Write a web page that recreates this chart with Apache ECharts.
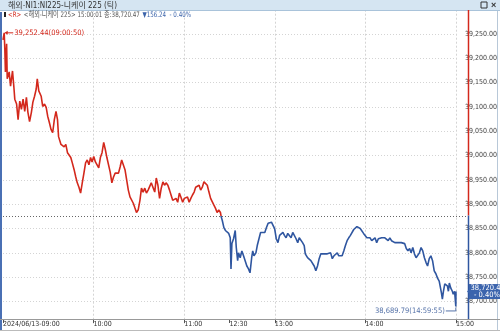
<!DOCTYPE html>
<html><head><meta charset="utf-8">
<script src="https://cdn.jsdelivr.net/npm/echarts@6/dist/echarts.min.js"></script>
<style>html,body{margin:0;padding:0;background:#fff;overflow:hidden}#c{width:500px;height:331px}</style>
</head><body><div id="c"></div>
<script>
// ---- data (minutes of trading since 09:00, lunch 11:30-12:30 removed) ----
const tradeMinutes = [0,0.8,1.2,1.6,2.4,2.8,4.1,5.0,6.3,7.2,7.8,9.0,10.0,11.1,12.2,13.3,14.4,15.5,16.5,17.6,18.8,19.8,20.9,22.0,22.7,23.7,25.3,26.3,27.5,28.6,29.6,30.7,31.8,32.9,34.0,35.1,36.1,36.8,38.4,39.4,40.5,41.6,42.7,43.8,44.9,45.9,47.1,48.2,49.2,50.3,51.4,52.5,53.6,54.7,55.8,56.9,58.0,59.0,60.1,61.2,62.3,63.4,64.5,65.6,66.7,67.8,68.8,69.9,71.0,72.1,73.2,74.3,75.4,76.5,77.6,78.6,79.7,80.8,81.9,83.0,84.1,85.2,86.3,87.4,88.4,89.5,90.7,91.7,92.8,93.9,95.0,96.1,97.2,98.2,99.3,100.5,101.5,102.6,103.7,104.8,105.9,107.0,108.0,109.2,110.3,111.3,112.4,113.5,114.6,115.7,116.8,117.8,119.0,120.1,121.1,122.2,123.3,124.4,125.5,126.6,127.6,128.8,129.9,130.9,132.0,133.1,134.2,135.3,136.4,137.5,138.6,139.7,140.7,141.8,142.9,144.0,144.6,145.2,146.3,147.3,148.4,149.5,150.5,151.0,151.6,152.7,153.8,154.5,155.4,156.0,157.1,158.2,159.3,160.4,161.5,162.6,163.6,164.7,165.4,166.2,167.5,168.4,169.7,170.6,171.9,173.4,174.5,175.6,176.7,177.8,178.9,179.9,181.0,182.1,183.2,184.3,185.4,186.4,187.5,188.6,189.7,190.8,191.9,193.0,194.1,195.2,196.2,197.3,198.4,199.5,200.2,201.7,202.8,203.9,205.0,206.1,207.2,208.3,209.4,210.5,211.6,212.6,213.7,214.8,215.9,217.0,218.1,219.2,220.3,221.4,222.4,223.5,224.6,225.7,226.8,227.9,229.0,230.1,231.2,232.3,233.3,234.4,235.5,236.6,237.7,238.8,239.9,241.0,242.1,243.1,244.2,245.3,246.4,247.5,248.6,249.7,250.8,251.8,252.9,254.0,255.1,256.2,257.3,258.4,259.5,260.6,261.6,262.7,263.8,264.9,266.0,267.1,268.2,269.3,270.3,271.4,272.5,273.6,274.7,275.8,276.9,278.0,279.1,280.2,281.2,282.3,283.4,284.5,285.6,286.7,287.8,288.9,289.5,290.4,291.0,291.7,292.6,293.4,294.3,295.0,295.6,296.5,297.6,298.2,299.1,299.9,300];
const prices = [39238,39252.44,39220,39172,39230,39158,39172,39143,39174,39141,39116,39106,39074,39112,39095,39116,39091,39120,39089,39070,39089,39110,39122,39137,39158,39133,39122,39101,39106,39099,39081,39068,39054,39047,39074,39091,39074,39039,39023,39027,39018,39023,39006,39008,38996,38985,38971,38956,38944,38935,38923,38944,38964,38985,38991,38981,38996,38987,38998,38987,38981,38975,38996,39006,39027,39012,38996,39000,38966,38944,38956,38964,38966,38964,38977,38991,38987,38971,38950,38929,38915,38919,38902,38892,38883,38888,38908,38933,38925,38933,38923,38929,38925,38944,38935,38925,38954,38939,38912,38933,38946,38939,38944,38939,38929,38919,38908,38904,38912,38904,38923,38915,38904,38912,38908,38915,38904,38912,38919,38925,38935,38933,38939,38929,38935,38946,38950,38939,38925,38912,38908,38898,38892,38883,38888,38883,38873,38867,38852,38846,38842,38840,38831,38767,38819,38829,38846,38811,38784,38800,38790,38804,38794,38790,38773,38767,38759,38790,38804,38794,38800,38815,38831,38842,38846,38842,38852,38861,38863,38863,38861,38850,38829,38821,38836,38840,38842,38836,38831,38840,38842,38831,38842,38840,38829,38821,38831,38829,38821,38815,38798,38790,38788,38784,38780,38773,38763,38773,38788,38798,38800,38798,38800,38798,38800,38800,38788,38794,38798,38800,38794,38798,38794,38804,38815,38825,38831,38836,38840,38848,38852,38854,38852,38850,38846,38840,38836,38831,38829,38831,38825,38829,38831,38821,38829,38825,38831,38829,38831,38829,38825,38831,38825,38829,38821,38819,38821,38819,38821,38825,38819,38809,38804,38809,38800,38811,38798,38790,38794,38800,38811,38804,38790,38780,38773,38788,38794,38784,38763,38757,38748,38742,38732,38717,38705,38721,38736,38738,38732,38721,38738,38728,38721,38715,38721,38689.79,38720.47];
const prevClose = 38876.71;
const lastPrice = 38720.47;
const changeText = '▼156.24  - 0.40%';
const pctText = '- 0.40%';
const highPoint = [0.8, 39252.44], highTime = '09:00:50';
const lowPoint = [299.9, 38689.79], lowTime = '14:59:55';
const xTickValues = [0, 60, 120, 150, 180, 240, 300];
const xTickLabels = ['2024/06/13-09:00', '10:00', '11:00', '12:30', '13:00', '14:00', '15:00'];
const titleText = '해외-NI1:NI225-니케이 225 (틱)';
const legendName = '<해외-니케이 225> 15:00:01 종:38,720.47';

const RED = '#d3281c', BLUE = '#2f56a0';
const FONT = "'Liberation Sans Narrow','DejaVu Sans Condensed','Noto Sans CJK KR',sans-serif";
const fmt = v => v.toLocaleString('en-US', {minimumFractionDigits: 2, maximumFractionDigits: 2});

const chart = echarts.init(document.getElementById('c'), null, {renderer: 'canvas'});
chart.setOption({
  animation: false,
  backgroundColor: '#fff',
  grid: {left: 3, right: 38, top: 9.7, bottom: 5.2, containLabel: false},
  xAxis: [{
    type: 'value', min: 0, max: 300, interval: 60,
    axisLine: {show: false}, axisTick: {show: false}, axisLabel: {show: false},
    splitLine: {show: true, showMinLine: false, lineStyle: {color: '#d4d4d4', type: [2, 2], width: 1}}
  }, {
    type: 'value', min: 0, max: 300, interval: 30, offset: -6.8, position: 'bottom',
    axisLine: {show: false},
    axisTick: {show: true, customValues: xTickValues, length: 4, lineStyle: {color: '#555'}},
    axisLabel: {customValues: xTickValues, formatter: v => xTickLabels[xTickValues.indexOf(v)] || '',
      align: 'left', margin: 2, color: '#333', fontSize: 7, fontFamily: FONT},
    splitLine: {show: false}
  }],
  yAxis: {
    type: 'value', position: 'right', min: 38650, max: 39300, interval: 50, offset: 6,
    axisLine: {show: false},
    axisTick: {show: false},
    axisLabel: {formatter: v => fmt(v), color: '#444', fontSize: 7, fontFamily: FONT, margin: 3,
      showMinLabel: false, showMaxLabel: false},
    splitLine: {show: true, showMinLine: false, showMaxLine: false, lineStyle: {color: '#d4d4d4', type: [1, 2], width: 1}}
  },
  visualMap: {show: false, type: 'piecewise', dimension: 1, seriesIndex: 0,
    pieces: [{gt: prevClose, lte: 40000, color: RED}, {gte: 38000, lte: prevClose, color: BLUE}]},
  series: [{
    type: 'line', xAxisIndex: 0, showSymbol: false, symbol: 'none',
    data: tradeMinutes.map((t, i) => [t, prices[i]]),
    lineStyle: {width: 1.6}
  }]
});

// ---- decorations positioned through the chart's own scales ----
const px = p => chart.convertToPixel({seriesIndex: 0}, p);
const yPrev = px([0, prevClose])[1];
const axisX = 468;
const yTop = 10, yAxisBottom = 319;
const H = px([highPoint[0], highPoint[1]]);
const L = px([lowPoint[0], lowPoint[1]]);
const yLast = px([300, lastPrice])[1];

const g = [];
// header bar
g.push({type: 'rect', shape: {x: 0, y: 0, width: 500, height: 11}, style: {fill: '#d5e5f2'}, z: 10});
g.push({type: 'line', shape: {x1: 0, y1: 10.5, x2: 500, y2: 10.5}, style: {stroke: '#a9c3da', lineWidth: 1}, z: 10});
g.push({type: 'text', x: 8, y: 5.5, style: {text: titleText, font: "8px " + FONT, fill: '#333', verticalAlign: 'middle'}, z: 11});
g.push({type: 'rect', shape: {x: 481, y: 2, width: 6, height: 6}, style: {fill: 'none', stroke: '#333', lineWidth: 1}, z: 11});
g.push({type: 'text', x: 491, y: 5.5, style: {text: '×', font: "bold 9px sans-serif", fill: '#333', verticalAlign: 'middle'}, z: 11});
// legend line
g.push({type: 'rect', shape: {x: 4, y: 12, width: 2, height: 5}, style: {fill: '#222'}, z: 11});
g.push({type: 'text', x: 8, y: 15, scaleX: 0.82, style: {
  text: '{r|<R>} {n|' + legendName + '} {b|' + changeText + '}',
  verticalAlign: 'middle',
  rich: {r: {fill: RED, font: "7.5px " + FONT}, n: {fill: '#555', font: "7.5px " + FONT}, b: {fill: '#3c64aa', font: "7.5px " + FONT}}
}, z: 11});
// frame
g.push({type: 'rect', shape: {x: 0, y: 12, width: 2, height: 319}, style: {fill: '#4a70b4'}, z: 10});
g.push({type: 'line', shape: {x1: 497.5, y1: 11, x2: 497.5, y2: 331}, style: {stroke: '#b8c8d8', lineWidth: 1}, z: 10});
g.push({type: 'line', shape: {x1: 0, y1: yAxisBottom + 0.5, x2: 500, y2: yAxisBottom + 0.5}, style: {stroke: '#999', lineWidth: 1}, z: 10});
g.push({type: 'line', shape: {x1: 0, y1: 330.5, x2: 500, y2: 330.5}, style: {stroke: '#bbb', lineWidth: 1}, z: 10});
// previous close dotted line
g.push({type: 'line', shape: {x1: 0, y1: Math.round(yPrev) + 0.5, x2: axisX, y2: Math.round(yPrev) + 0.5},
  style: {stroke: '#666', lineWidth: 1, lineDash: [1, 2]}, z: 5});
// y axis line: red above prev close, blue below
g.push({type: 'line', shape: {x1: axisX + 0.5, y1: yTop, x2: axisX + 0.5, y2: yPrev}, style: {stroke: RED, lineWidth: 1.5}, z: 10});
g.push({type: 'line', shape: {x1: axisX + 0.5, y1: yPrev, x2: axisX + 0.5, y2: yAxisBottom}, style: {stroke: BLUE, lineWidth: 1.5}, z: 10});
// high annotation
g.push({type: 'line', shape: {x1: H[0] + 1, y1: H[1], x2: H[0] + 9, y2: H[1]}, style: {stroke: RED, lineWidth: 1}, z: 12});
g.push({type: 'polygon', shape: {points: [[H[0] + 0.5, H[1]], [H[0] + 3.5, H[1] - 2], [H[0] + 3.5, H[1] + 2]]}, style: {fill: RED}, z: 12});
g.push({type: 'text', x: H[0] + 10, y: H[1], style: {text: fmt(highPoint[1]) + '(' + highTime + ')', font: "7.5px " + FONT, fill: RED, verticalAlign: 'middle'}, z: 12});
// low annotation
g.push({type: 'line', shape: {x1: L[0] - 10, y1: L[1] + 4.5, x2: L[0], y2: L[1] + 4.5}, style: {stroke: '#5572a8', lineWidth: 1}, z: 12});
g.push({type: 'line', shape: {x1: L[0], y1: L[1] + 4.5, x2: L[0], y2: L[1] + 1}, style: {stroke: '#5572a8', lineWidth: 1}, z: 12});
g.push({type: 'text', x: L[0] - 11, y: L[1] + 4.5, style: {text: fmt(lowPoint[1]) + '(' + lowTime + ')', font: "7.5px " + FONT, fill: '#5572a8', align: 'right', verticalAlign: 'middle'}, z: 12});
// last value box
g.push({type: 'polygon', shape: {points: [[axisX - 1, yLast], [axisX + 2, yLast - 3], [axisX + 2, yLast + 3]]}, style: {fill: '#3b64ad'}, z: 13});
g.push({type: 'rect', shape: {x: axisX + 1, y: yLast - 7.5, width: 32, height: 15}, style: {fill: '#3b64ad'}, z: 13});
g.push({type: 'text', x: axisX + 2.5, y: yLast - 3.5, style: {text: fmt(lastPrice), font: "7.5px " + FONT, fill: '#fff', verticalAlign: 'middle'}, z: 14});
g.push({type: 'text', x: axisX + 6, y: yLast + 3.5, style: {text: pctText, font: "7.5px " + FONT, fill: '#fff', verticalAlign: 'middle'}, z: 14});
chart.setOption({graphic: g});
</script>
</body></html>
